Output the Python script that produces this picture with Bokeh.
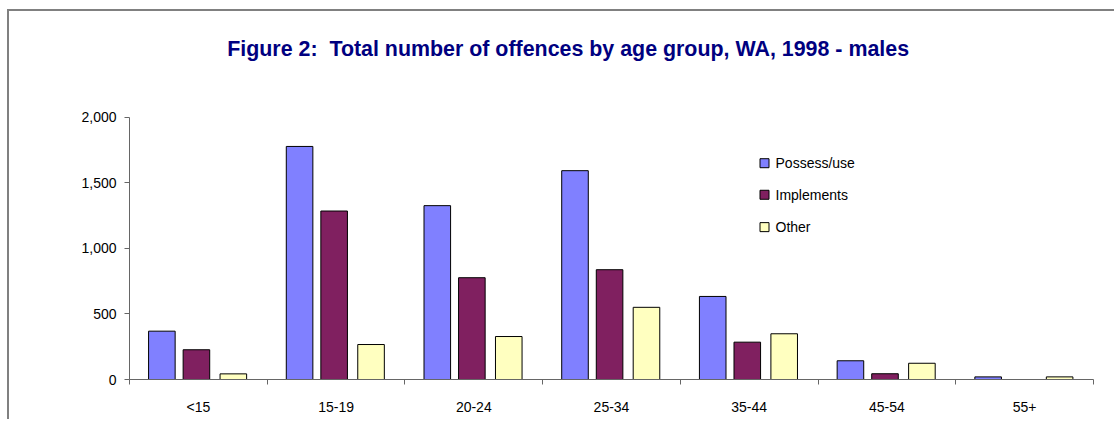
from bokeh.plotting import figure
from bokeh.models import Range1d, FixedTicker, NumeralTickFormatter, Label, ColumnDataSource
from bokeh.core.properties import value
from bokeh.embed import file_html
from bokeh.resources import INLINE
import numpy as np

# ---- data ----
age_groups = ["<15", "15-19", "20-24", "25-34", "35-44", "45-54", "55+"]
series_names = ["Possess/use", "Implements", "Other"]
possess_use = [369, 1779, 1327, 1594, 634, 143, 20]
implements = [227, 1286, 777, 838, 285, 44, 0]
other = [43, 267, 328, 551, 349, 124, 20]
y_ticks = [0, 500, 1000, 1500, 2000]

colors = ["#8080FF", "#802060", "#FFFFC0"]
offsets = [-0.265, -0.014, 0.254]
bar_w = 0.193
FONT = "Liberation Sans"
Y_AXIS_MAX = 2000
Y_VIEW_TOP = 2809  # frame extends above the axis to hold title/legend

p = figure(width=1107, height=410, output_backend="svg", toolbar_location=None,
           x_range=Range1d(0, len(age_groups)), y_range=Range1d(0, Y_VIEW_TOP),
           min_border_left=120, min_border_right=23, min_border_top=0, min_border_bottom=42,
           tools="")
p.styles = {"margin-left": "7px", "margin-top": "9px",
            "border-top": "2px solid #808080", "border-left": "2px solid #808080"}
p.outline_line_color = None
p.xgrid.visible = False
p.ygrid.visible = False
p.background_fill_color = "white"
p.border_fill_color = "white"

centers = np.arange(len(age_groups)) + 0.5
for vals, col, off in zip([possess_use, implements, other], colors, offsets):
    src = ColumnDataSource(dict(x=centers + off, top=vals))
    p.vbar(x="x", top="top", bottom=0, width=bar_w, source=src,
           fill_color=col, line_color="#000000", line_width=1)

# x axis: labels at centres, tick marks at category boundaries
xa = p.xaxis[0]
xa.ticker = FixedTicker(ticks=list(centers), minor_ticks=list(range(len(age_groups) + 1)))
xa.major_label_overrides = {float(c): g for c, g in zip(centers, age_groups)}
xa.major_tick_line_color = None
xa.major_tick_out = 0
xa.major_tick_in = 0
xa.minor_tick_line_color = "#666666"
xa.minor_tick_out = 5
xa.minor_tick_in = 0
xa.axis_line_color = "#666666"
xa.major_label_standoff = 14
xa.major_label_text_font = FONT
xa.major_label_text_font_size = "14px"
xa.major_label_text_color = "#000000"

ya = p.yaxis[0]
ya.ticker = FixedTicker(ticks=y_ticks)
ya.bounds = (0, Y_AXIS_MAX)
ya.formatter = NumeralTickFormatter(format="0,0")
ya.major_tick_out = 5
ya.major_tick_in = 0
ya.minor_tick_line_color = None
ya.axis_line_color = "#666666"
ya.major_tick_line_color = "#666666"
ya.major_label_standoff = 8
ya.major_label_text_font = FONT
ya.major_label_text_font_size = "14px"
ya.major_label_text_color = "#000000"

# title
p.add_layout(Label(x=3.185, y=2521, text="Figure 2:\u00a0\u00a0Total number of offences by age group, WA, 1998 - males",
                   text_align="center", text_baseline="alphabetic",
                   text_font=FONT, text_font_size="21.4px", text_font_style="bold",
                   text_color="#000080"))

# legend (manual)
leg_x = 4.611
leg_y = [1651, 1410, 1163]
p.scatter(x=[leg_x] * 3, y=leg_y, marker="square", size=9, fill_color=colors,
          line_color="#000000", line_width=1)
p.text(x=[leg_x + 0.08] * 3, y=leg_y, text=series_names, text_font=value(FONT),
       text_font_size="14px", text_baseline="middle", text_align="left", text_color="#000000")

open("out.html", "w").write(file_html(p, INLINE))
